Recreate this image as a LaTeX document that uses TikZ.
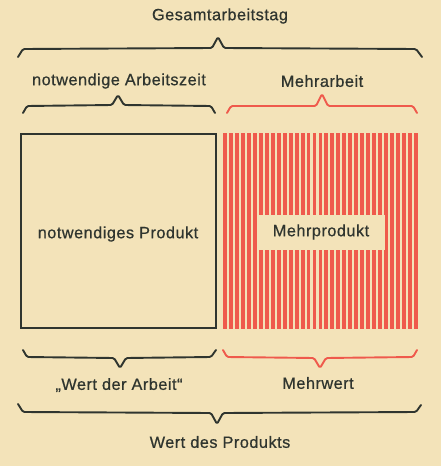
\documentclass[tikz,border=0pt]{standalone}
\usepackage{fontspec}
\setmainfont{Liberation Sans}[LetterSpace=3, FakeBold=0.6]
\definecolor{bg}{HTML}{F3E3B9}
\definecolor{ink}{HTML}{2F352F}
\definecolor{rd}{HTML}{EF5A4C}
\begin{document}
\begin{tikzpicture}[x=1pt,y=-1pt,
  lbl/.style={font=\fontsize{16.3}{19}\selectfont, text=ink, inner sep=0pt},
  brace/.style={line width=1.9pt, line join=round, line cap=round, rounded corners=1.5pt},
]
\fill[bg] (0,0) rectangle (441,466);
\useasboundingbox (0,0) rectangle (441,466);
% texts
\node[lbl] (ges) at (220,16) {Gesamtarbeitstag};
\node[lbl] (naz) at (119,81) {notwendige Arbeitszeit};
\node[lbl] (mar) at (322,81) {Mehrarbeit};
\node[lbl] (wda) at (119,385) {„Wert der Arbeit“};
\node[lbl] (mwe) at (318,383) {Mehrwert};
\node[lbl] (wdp) at (220,442) {Wert des Produkts};
% top brace
\draw[brace, ink] (18,57) -- (23,49) -- (212,48) -- (218,37) -- (224,48) -- (416,49) -- (422,57);
% second level braces
\draw[brace, ink] (23,113) -- (27,106) -- (112,105) -- (118,95) -- (124,105) -- (211,106) -- (215,113);
\draw[brace, rd] (227,113) -- (231,106) -- (316,106) -- (322,94) -- (328,106) -- (413,106) -- (417,113);
% black box
\draw[ink, line width=1.9pt] (21,134) rectangle (216,328);
\node[lbl] (np) at (118,234) {notwendiges Produkt};
% red stripes
\foreach \i in {0,...,32} {
  \fill[rd] ({223+\i*5.97},133) rectangle ({223+\i*5.97+3.9},329);
}
\node[lbl, fill=bg, minimum width=128pt, minimum height=35pt] (mp) at (321,232) {Mehrprodukt};
% bottom braces
\draw[brace, ink] (23,350) -- (27,357) -- (114,358) -- (120,368) -- (126,358) -- (211,357) -- (216,350);
\draw[brace, rd] (223,350) -- (227,357) -- (314,358) -- (320,368) -- (326,358) -- (413,357) -- (417,350);
% bottom big brace
\draw[brace, ink] (18,404) -- (23,412) -- (211,413) -- (217,424) -- (223,413) -- (416,412) -- (421,405);
\end{tikzpicture}
\end{document}
